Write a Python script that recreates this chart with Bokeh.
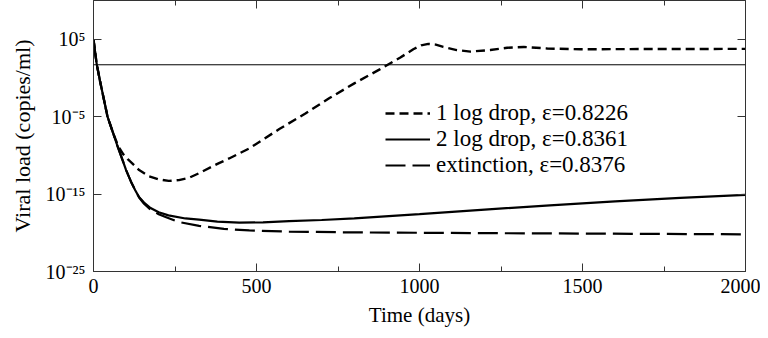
from bokeh.plotting import figure
from bokeh.models import (LinearAxis, LogAxis, FixedTicker, SingleIntervalTicker,
                          Range1d, Legend, LegendItem, Span)
from bokeh.embed import file_html
from bokeh.resources import INLINE

# ---------------- data (log10 of copies/ml) ----------------
one_log_days = [0, 5, 10, 20, 30, 43, 60, 72, 80, 92, 105, 118, 140, 170, 200, 231, 262,
                293, 324, 385, 416, 478, 570, 650, 724, 800, 878, 940, 981, 1005, 1027,
                1050, 1073, 1114, 1156, 1217, 1269, 1320, 1392, 1495, 1600, 1800, 2000]
one_log_exp = [5, 3.3, 1.75, -0.4, -2.4, -5.0, -7.1, -8.4, -9.1, -9.9, -10.5, -11.0, -11.9,
               -12.7, -13.1, -13.3, -13.2, -12.9, -12.3, -11.0, -10.4, -9.1, -6.6, -4.6,
               -2.6, -0.7, 1.1, 2.6, 3.7, 4.2, 4.4, 4.3, 4.0, 3.6, 3.4, 3.6, 3.9, 4.0,
               3.8, 3.7, 3.72, 3.74, 3.75]

two_log_days = [0, 5, 10, 20, 30, 43, 60, 72, 90, 100, 115, 128, 140, 155, 175, 200, 230,
                282, 324, 380, 447, 520, 600, 700, 800, 1000, 1200, 1400, 1600, 1800, 2000]
two_log_exp = [5, 3.3, 1.75, -0.4, -2.4, -5.0, -7.1, -8.6, -10.7, -11.9, -13.4, -14.5,
               -15.4, -16.1, -16.8, -17.35, -17.75, -18.15, -18.3, -18.55, -18.7, -18.65,
               -18.5, -18.35, -18.15, -17.6, -17.0, -16.45, -15.95, -15.5, -15.1]

ext_days = [0, 5, 10, 20, 30, 43, 60, 72, 90, 100, 115, 128, 140, 155, 175, 200, 221, 260,
            324, 400, 478, 600, 786, 1000, 1200, 1500, 2000]
ext_exp = [5, 3.3, 1.75, -0.4, -2.4, -5.0, -7.1, -8.6, -10.7, -11.9, -13.4, -14.5, -15.45,
           -16.25, -17.0, -17.6, -17.95, -18.6, -19.1, -19.5, -19.7, -19.85, -19.95, -20.0,
           -20.05, -20.1, -20.2]

detection_limit = 50
x_ticks_interval = 500
x_tick_values = [0, 500, 1000, 1500, 2000]
y_ticks = [1e-25, 1e-15, 1e-5, 1e5]
y_tick_labels = ["10\u207b\u00b2\u2075", "10\u207b\u00b9\u2075", "10\u207b\u2075", "10\u2075"]
series_labels = ["1 log drop, \u03b5=0.8226", "2 log drop, \u03b5=0.8361",
                 "extinction, \u03b5=0.8376"]

FONT = "Liberation Serif"
AX = "#333333"

p = figure(width=760, height=333, y_axis_type="log",
           x_range=Range1d(0, 2000), y_range=Range1d(1e-25, 1e10),
           output_backend="svg", toolbar_location=None,
           min_border_left=93, min_border_right=15, min_border_top=0,
           min_border_bottom=62)
p.outline_line_color = None
p.xgrid.visible = False
p.ygrid.visible = False

xt = SingleIntervalTicker(interval=x_ticks_interval, num_minor_ticks=2)
yt = FixedTicker(ticks=y_ticks)


def style_axis(ax):
    ax.axis_line_color = AX
    ax.major_tick_line_color = AX
    ax.minor_tick_line_color = AX
    ax.major_tick_in = 8
    ax.major_tick_out = 0
    ax.minor_tick_in = 5
    ax.minor_tick_out = 0
    ax.major_label_text_font = FONT
    ax.major_label_text_color = "black"
    ax.major_label_text_font_size = "20px"
    ax.axis_label_text_font = FONT
    ax.axis_label_text_font_style = "normal"
    ax.axis_label_text_font_size = "21px"
    ax.axis_label_text_color = "black"


xa = p.xaxis[0]
xa.ticker = xt
style_axis(xa)
xa.major_label_standoff = 7
xa.axis_label = "Time (days)"
xa.axis_label_standoff = 7

ya = p.yaxis[0]
ya.ticker = yt
style_axis(ya)
ya.major_label_overrides = {v: s for v, s in zip(y_ticks, y_tick_labels)}
ya.major_label_standoff = 8
ya.axis_label = "Viral load (copies/ml)"
ya.axis_label_text_font_size = "22px"
ya.axis_label_standoff = 8

top = LinearAxis(ticker=xt)
style_axis(top)
top.major_label_text_font_size = "1px"
top.major_label_standoff = 0
top.major_label_overrides = {v: "" for v in x_tick_values}
p.add_layout(top, "above")

right = LogAxis(ticker=yt)
style_axis(right)
right.major_label_text_font_size = "1px"
right.major_label_standoff = 0
right.major_label_overrides = {v: "" for v in y_ticks}
p.add_layout(right, "right")

p.add_layout(Span(location=detection_limit, dimension="width", line_color="black",
                  line_width=1))

r1 = p.line(one_log_days, [10 ** e for e in one_log_exp], line_color="black",
            line_width=2.4, line_dash="9 5")
r2 = p.line(two_log_days, [10 ** e for e in two_log_exp], line_color="black",
            line_width=2.2)
r3 = p.line(ext_days, [10 ** e for e in ext_exp], line_color="black",
            line_width=2.2, line_dash="20 7")

legend = Legend(items=[LegendItem(label=series_labels[0], renderers=[r1]),
                       LegendItem(label=series_labels[1], renderers=[r2]),
                       LegendItem(label=series_labels[2], renderers=[r3])],
                location=(292, 93), border_line_color=None, background_fill_alpha=0,
                padding=0, margin=0, spacing=0, glyph_width=45, glyph_height=18,
                label_height=18, label_standoff=6, label_text_font=FONT,
                label_text_font_size="23px", label_text_color="black")
p.add_layout(legend)

open("out.html", "w").write(file_html(p, INLINE))
